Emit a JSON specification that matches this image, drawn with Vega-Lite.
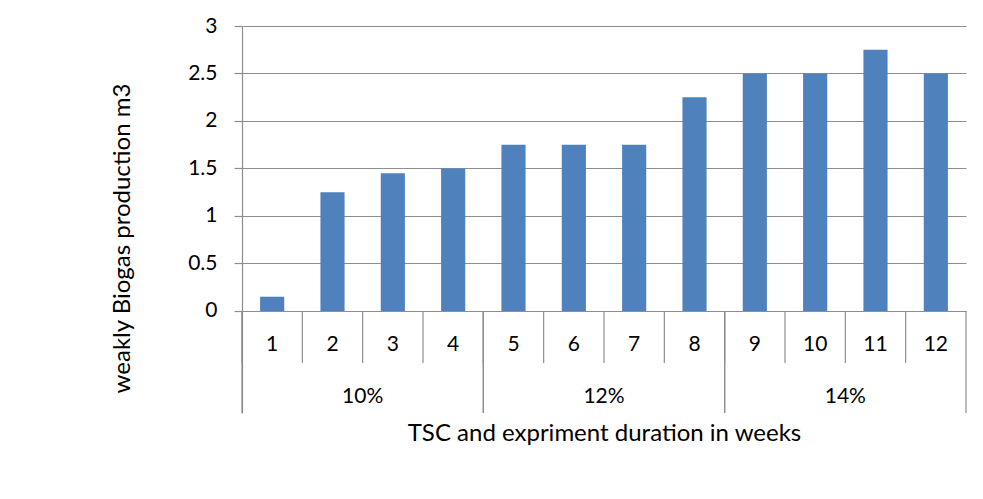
{
  "$schema": "https://vega.github.io/schema/vega-lite/v6.json",
  "width": 724,
  "height": 387,
  "autosize": "none",
  "padding": {"left": 242, "top": 26, "right": 17, "bottom": 86},
  "background": "white",
  "config": {
    "view": {"stroke": null},
    "font": "Lato",
    "text": {"font": "Lato", "fontSize": 21, "color": "black"}
  },
  "data": {
    "values": [
      {"week": "1", "tsc": "10%", "value": 0.15},
      {"week": "2", "tsc": "10%", "value": 1.25},
      {"week": "3", "tsc": "10%", "value": 1.45},
      {"week": "4", "tsc": "10%", "value": 1.5},
      {"week": "5", "tsc": "12%", "value": 1.75},
      {"week": "6", "tsc": "12%", "value": 1.75},
      {"week": "7", "tsc": "12%", "value": 1.75},
      {"week": "8", "tsc": "12%", "value": 2.25},
      {"week": "9", "tsc": "14%", "value": 2.5},
      {"week": "10", "tsc": "14%", "value": 2.5},
      {"week": "11", "tsc": "14%", "value": 2.75},
      {"week": "12", "tsc": "14%", "value": 2.5}
    ]
  },
  "layer": [
    {
      "mark": {"type": "bar", "color": "#4f81bd"},
      "encoding": {
        "x": {
          "field": "week", "type": "ordinal", "sort": null,
          "scale": {"type": "band", "paddingInner": 0.6, "paddingOuter": 0.3},
          "axis": {
            "orient": "bottom", "domain": false, "ticks": false, "labels": false, "grid": false,
            "title": "TSC and expriment duration in weeks",
            "titleFont": "Lato", "titleFontSize": 24, "titleFontWeight": "normal", "titleColor": "black",
            "titlePadding": 8
          }
        },
        "y": {
          "field": "value", "type": "quantitative",
          "scale": {"domain": [-1.074, 3], "nice": false, "zero": false},
          "axis": {
            "values": [0, 0.5, 1, 1.5, 2, 2.5, 3],
            "format": "~g",
            "grid": true, "gridColor": "#8e8e8e", "gridWidth": 1.2,
            "domain": true, "domainColor": "#8e8e8e", "domainWidth": 1.2,
            "tickColor": "#8e8e8e", "tickSize": 8, "tickWidth": 1.2,
            "labelFont": "Lato", "labelFontSize": 21, "labelColor": "black", "labelPadding": 17,
            "title": "weakly Biogas production m3",
            "titleFont": "Lato", "titleFontSize": 24, "titleFontWeight": "normal", "titleColor": "black",
            "titlePadding": 53, "titleY": 212
          }
        }
      }
    },
    {
      "mark": {"type": "rule", "color": "#8e8e8e", "strokeWidth": 1.2},
      "encoding": {
        "x": {"field": "week", "type": "ordinal", "sort": null, "bandPosition": 0, "scale": {"type": "band", "paddingInner": 0, "paddingOuter": 0}, "axis": null},
        "y": {"datum": 0},
        "y2": {"datum": -0.547}
      }
    },
    {
      "mark": {"type": "text", "baseline": "middle", "align": "center"},
      "encoding": {
        "x": {"field": "week", "type": "ordinal", "sort": null, "scale": {"type": "band", "paddingInner": 0, "paddingOuter": 0}, "axis": null},
        "y": {"datum": -0.36},
        "text": {"field": "week"}
      }
    },
    {
      "transform": [{"aggregate": [{"op": "count", "as": "n"}], "groupby": ["tsc"]}],
      "mark": {"type": "rule", "color": "#8e8e8e", "strokeWidth": 1.2},
      "encoding": {
        "x": {"field": "tsc", "type": "ordinal", "sort": "ascending", "bandPosition": 0, "scale": {"type": "band", "paddingInner": 0, "paddingOuter": 0}, "axis": null},
        "y": {"datum": 0},
        "y2": {"datum": -1.074}
      }
    },
    {
      "transform": [{"aggregate": [{"op": "count", "as": "n"}], "groupby": ["tsc"]}],
      "mark": {"type": "rule", "color": "#8e8e8e", "strokeWidth": 1.2},
      "encoding": {
        "x": {"field": "tsc", "type": "ordinal", "sort": "ascending", "bandPosition": 1, "scale": {"type": "band", "paddingInner": 0, "paddingOuter": 0}, "axis": null},
        "y": {"datum": 0},
        "y2": {"datum": -1.074}
      }
    },
    {
      "transform": [{"aggregate": [{"op": "count", "as": "n"}], "groupby": ["tsc"]}],
      "mark": {"type": "text", "baseline": "middle", "align": "center"},
      "encoding": {
        "x": {"field": "tsc", "type": "ordinal", "sort": "ascending", "scale": {"type": "band", "paddingInner": 0, "paddingOuter": 0}, "axis": null},
        "y": {"datum": -0.905},
        "text": {"field": "tsc"}
      }
    }
  ],
  "resolve": {"scale": {"x": "independent"}}
}
